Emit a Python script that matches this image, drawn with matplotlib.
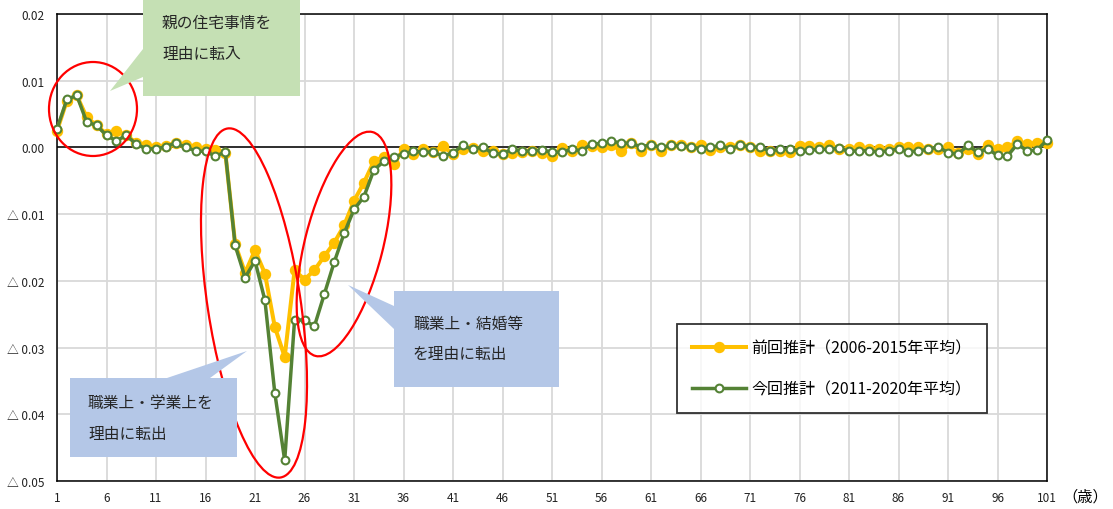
import numpy as np
import matplotlib
matplotlib.use("Agg")
import matplotlib.pyplot as plt
from matplotlib.patches import Ellipse, Polygon
from matplotlib.ticker import FuncFormatter

plt.rcParams['font.family'] = ['Noto Sans CJK JP', 'DejaVu Sans']

# 年齢（1歳〜101歳）
ages = np.arange(1, 102)

# 前回推計（2006-2015年平均）
prev_rate = [
    0.0025, 0.0070, 0.0078, 0.0045, 0.0033, 0.0020, 0.0024, 0.0018, 0.0007, 0.0003,
    0.0000, 0.0002, 0.0007, 0.0003, 0.0000, -0.0002, -0.0004, -0.0008, -0.0145, -0.0188,
    -0.0154, -0.0189, -0.0269, -0.0314, -0.0184, -0.0198, -0.0184, -0.0163, -0.0143, -0.0117,
    -0.0080, -0.0053, -0.0021, -0.0014, -0.0025, -0.0003, -0.0010, -0.0002, -0.0007, 0.0002,
    -0.0010, -0.0003, -0.0001, -0.0006, -0.0006, -0.0010, -0.0008, -0.0007, -0.0006, -0.0008,
    -0.0013, -0.0001, -0.0006, 0.0003, 0.0002, 0.0000, 0.0004, -0.0005, 0.0006, -0.0005,
    0.0004, -0.0005, 0.0004, 0.0003, 0.0000, 0.0004, -0.0004, 0.0000, 0.0000, 0.0004,
    0.0000, -0.0005, -0.0005, -0.0005, -0.0007, 0.0002, 0.0002, 0.0000, 0.0004, -0.0002,
    -0.0003, 0.0000, -0.0003, -0.0003, -0.0003, 0.0000, 0.0000, 0.0001, -0.0003, -0.0003,
    0.0000, -0.0008, -0.0003, -0.0010, 0.0004, -0.0002, 0.0000, 0.0009, 0.0005, 0.0007,
    0.0006,
]

# 今回推計（2011-2020年平均）
curr_rate = [
    0.0028, 0.0072, 0.0078, 0.0038, 0.0033, 0.0018, 0.0010, 0.0018, 0.0005, -0.0002,
    -0.0002, 0.0001, 0.0007, 0.0000, -0.0005, -0.0006, -0.0013, -0.0007, -0.0147, -0.0195,
    -0.0170, -0.0229, -0.0368, -0.0469, -0.0258, -0.0259, -0.0268, -0.0220, -0.0172, -0.0129,
    -0.0093, -0.0074, -0.0034, -0.0021, -0.0014, -0.0010, -0.0006, -0.0007, -0.0007, -0.0013,
    -0.0008, 0.0003, -0.0003, 0.0001, -0.0009, -0.0010, -0.0002, -0.0006, -0.0005, -0.0004,
    -0.0007, -0.0007, -0.0003, -0.0005, 0.0005, 0.0006, 0.0009, 0.0007, 0.0006, 0.0001,
    0.0004, 0.0000, 0.0003, 0.0002, 0.0001, -0.0002, 0.0000, 0.0003, -0.0002, 0.0003,
    0.0001, 0.0000, -0.0005, -0.0003, -0.0002, -0.0005, -0.0004, -0.0003, -0.0003, -0.0001,
    -0.0006, -0.0005, -0.0005, -0.0007, -0.0005, -0.0002, -0.0007, -0.0005, -0.0003, 0.0001,
    -0.0008, -0.0010, 0.0003, -0.0007, -0.0002, -0.0012, -0.0013, 0.0005, -0.0005, -0.0004,
    0.0011,
]

x_ticks = list(range(1, 102, 5))
y_ticks = [0.02, 0.01, 0.0, -0.01, -0.02, -0.03, -0.04, -0.05]

label_prev = '前回推計（2006-2015年平均）'
label_curr = '今回推計（2011-2020年平均）'

c_prev = '#FFC000'
c_curr = '#548235'

fig = plt.figure(figsize=(11.13, 5.10), dpi=100)
ax = fig.add_axes([57 / 1113, 28 / 510, 990 / 1113, 467 / 510])

ax.plot(ages, prev_rate, color=c_prev, lw=2.9, marker='o', ms=7.2,
        mfc=c_prev, mec=c_prev, label=label_prev, clip_on=False, zorder=3)
ax.plot(ages, curr_rate, color=c_curr, lw=2.5, marker='o', ms=5.6,
        mfc='white', mec=c_curr, mew=1.5, label=label_curr, clip_on=False, zorder=4)

ax.axhline(0, color='black', lw=1.1, zorder=2)

ax.set_xlim(1, 101)
ax.set_ylim(-0.05, 0.02)
ax.set_xticks(x_ticks)
ax.set_yticks(y_ticks)
ax.yaxis.set_major_formatter(FuncFormatter(
    lambda v, p: f'△ {abs(v):.2f}' if v < -1e-9 else f'{abs(v):.2f}'))
ax.grid(True, color='#D9D9D9', lw=1.3, zorder=0)
ax.set_axisbelow(True)
ax.tick_params(length=0, labelsize=8.5, colors='#222222')
ax.tick_params(axis='y', pad=9)
ax.tick_params(axis='x', pad=7)
for s in ax.spines.values():
    s.set_color('black')
    s.set_linewidth(1.1)

leg = ax.legend(loc='upper left', bbox_to_anchor=(677 / 1113, 1 - 325 / 510),
                bbox_transform=fig.transFigure, frameon=True, fancybox=False,
                edgecolor='black', fontsize=11.5, handlelength=3.4,
                labelspacing=1.55, borderpad=0.95, handletextpad=0.3,
                borderaxespad=0)
leg.get_frame().set_linewidth(1.3)
leg.set_zorder(10)

fig.text(1108 / 1113, 1 - 497 / 510, '（歳）', ha='right', va='center', fontsize=11)

# 注釈用のオーバーレイ（ピクセル座標）
ov = fig.add_axes([0, 0, 1, 1], zorder=5)
ov.set_xlim(0, 1113)
ov.set_ylim(510, 0)
ov.axis('off')
ov.patch.set_alpha(0)

ov.add_patch(Ellipse((93, 110), 88, 94, angle=0, fill=False, ec='red', lw=1.6))
ov.add_patch(Ellipse((254, 304), 353, 93, angle=81.4, fill=False, ec='red', lw=1.6))
ov.add_patch(Ellipse((344, 245), 231, 78, angle=104.3, fill=False, ec='red', lw=1.6))

ov.add_patch(Polygon([(143, 0), (300, 0), (300, 97), (143, 97), (143, 78), (110, 92), (143, 50)],
                     closed=True, fc='#C5E0B4', ec='none'))
ov.add_patch(Polygon([(70, 379), (167, 379), (247, 352), (210, 379), (237, 379), (237, 458), (70, 458)],
                     closed=True, fc='#B4C7E7', ec='none'))
ov.add_patch(Polygon([(394, 292), (559, 292), (559, 388), (394, 388), (394, 330), (348, 286), (394, 307)],
                     closed=True, fc='#B4C7E7', ec='none'))

tkw = dict(ha='left', va='center', fontsize=11.3, color='#262626')
ov.text(162, 23, '親の住宅事情を', **tkw)
ov.text(162, 55, '理由に転入', **tkw)
ov.text(88, 404, '職業上・学業上を', **tkw)
ov.text(88, 435, '理由に転出', **tkw)
ov.text(413, 324, '職業上・結婚等', **tkw)
ov.text(413, 355, 'を理由に転出', **tkw)

fig.savefig('out.png', dpi=100)
